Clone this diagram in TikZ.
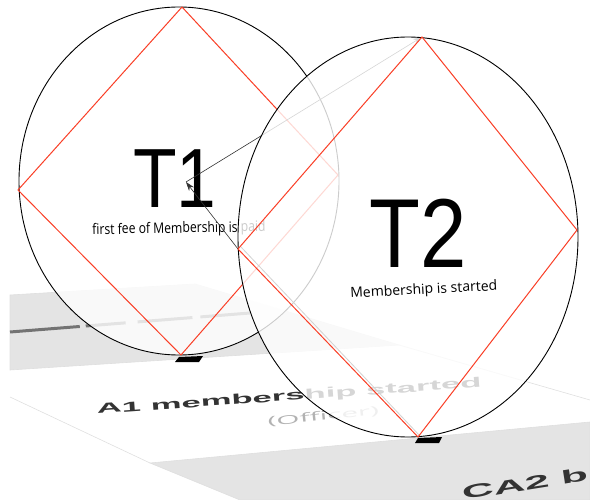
\documentclass[tikz,border=0pt]{standalone}
\usepackage{fontspec}
\usepackage{graphicx}
\setmainfont{Liberation Sans}
\newfontfamily\capfont{Open Sans}
\usetikzlibrary{arrows.meta}

\definecolor{tred}{RGB}{250,62,38}
\definecolor{slabgray}{RGB}{228,228,228}

\begin{document}
\begin{tikzpicture}[x=1pt, y=-1pt,
  disc/.style={draw=black, line width=0.9pt, fill=white, fill opacity=0.8},
  rhomb/.style={draw=tred, line width=1pt, line join=miter},
  slab/.style={fill=slabgray, draw=gray!25, line width=0.6pt},
  edge/.style={draw=gray!25, line width=0.6pt},
  bigT/.style={inner sep=0pt, anchor=base},
  caption/.style={font=\capfont\fontsize{14}{14}\selectfont, inner sep=0pt, anchor=base},
  flat/.style={inner sep=0pt, anchor=base west},
  link/.style={draw=black!80, line width=0.6pt, -{Stealth[length=9pt, width=6pt]}},
  foot/.style={fill=black}]

\clip (0,0) rectangle (590,500);

% corners of both rhombs
\coordinate (d1n) at (182,7);
\coordinate (d1e) at (338,175);
\coordinate (d1s) at (181,355);
\coordinate (d1w) at (18,190);
\coordinate (d2n) at (422,37);
\coordinate (d2e) at (577,230);
\coordinate (d2s) at (418,437);
\coordinate (d2w) at (238,249);
\coordinate (hit) at (186,182);

% cards lying underneath
\path[slab] (10,295) -- (195,284) -- (399,345) -- (10,370) -- cycle;
\draw[edge] (399,345) -- (590,400);
\draw[edge] (10,397) -- (150,463);
\path[slab] (150,463) -- (590,422) -- (590,500) -- (240,500) -- cycle;

\draw[black!55, line width=3pt, dash pattern=on 70pt off 6pt on 40pt off 12pt on 55pt off 8pt on 60pt]
  (10,332) -- (250,313);
\node[flat, rotate=4, text=black!80] (a1) at (97,414)
  {\scalebox{1}[0.4]{\fontsize{34.7}{35}\selectfont\bfseries A1 membership started}};
\node[flat, rotate=6, text=gray!60] (off) at (268,426)
  {\scalebox{1}[0.4]{\capfont\fontsize{29.8}{30}\selectfont (Officer)}};
\node[flat, rotate=9, text=black!80] (ca2) at (463,500)
  {\scalebox{1}[0.42]{\fontsize{44}{44}\selectfont\bfseries CA2 b}};

% T1
\path[disc] (179,181) ellipse [x radius=160, y radius=174];
\draw[rhomb] (d1n) -- (d1e) -- (d1s) -- (d1w) -- cycle;
\node[bigT] (t1) at (175,208) {\fontsize{84}{84}\selectfont\scalebox{0.85}[1]{T1}};
\node[caption, rotate=1] (t1cap) at (179,233) {\scalebox{0.84}[1]{\fontsize{14.5}{15}\selectfont first fee of Membership is paid}};

\draw[link] (hit) -- (d2n);
\draw[link] (d2w) -- (hit);

% T2
\path[disc] (408,237) ellipse [x radius=170, y radius=200];
\draw[gray!35, line width=0.8pt] ([shift={(3,-2)}]d2w) -- ([shift={(2,-1)}]d2s);
\draw[rhomb] (d2n) -- (d2e) -- (d2s) -- (d2w) -- cycle;
\node[bigT] (t2) at (418,268) {\fontsize{98}{98}\selectfont\scalebox{0.85}[1]{T2}};
\node[caption, rotate=3] (t2cap) at (424,294) {Membership is started};

\fill[foot] (179,357) -- (203,356) -- (199,362) -- (175,362) -- cycle;
\fill[foot] (418,438) -- (442,437) -- (439,443) -- (415,443) -- cycle;

\end{tikzpicture}
\end{document}
